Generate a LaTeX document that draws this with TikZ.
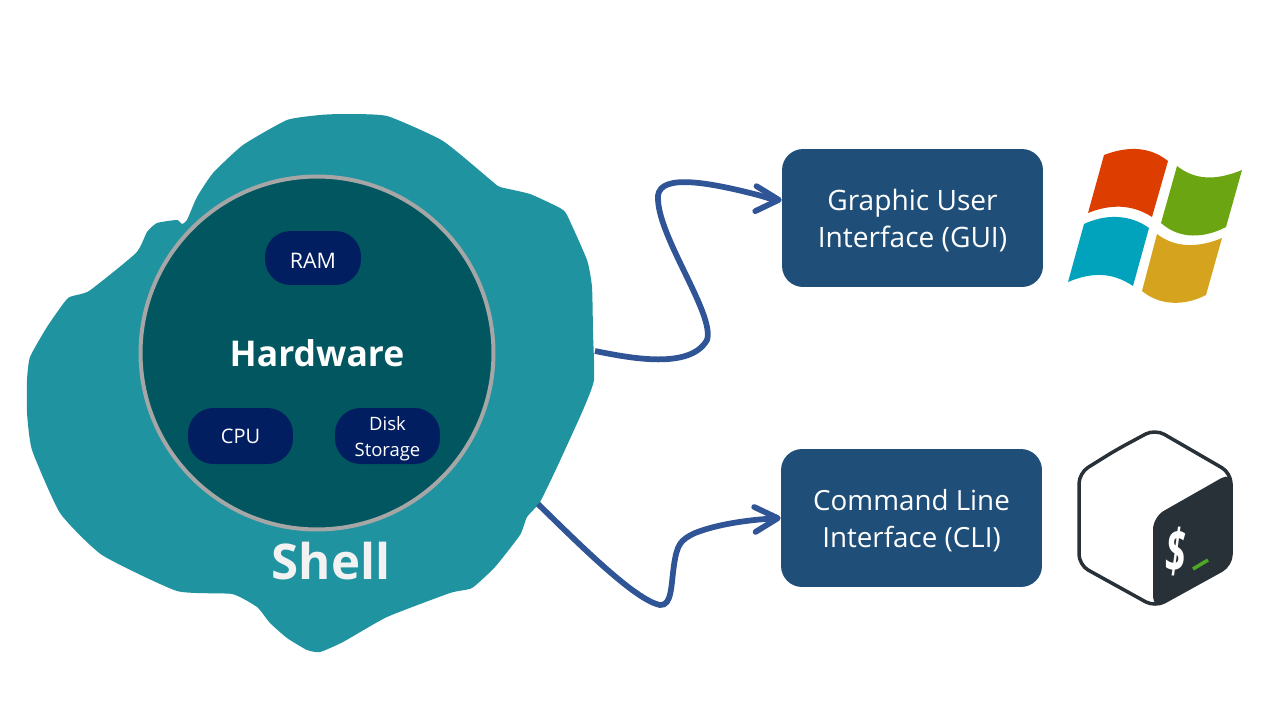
\documentclass[tikz,border=0pt]{standalone}
\usepackage{fontspec}
\setmainfont{Open Sans}
\usetikzlibrary{arrows.meta,positioning}
\definecolor{ShellTeal}{RGB}{32,147,160}
\definecolor{CoreTeal}{RGB}{2,86,95}
\definecolor{RingGray}{RGB}{166,166,166}
\definecolor{ChipBlue}{RGB}{1,31,96}
\definecolor{BoxBlue}{RGB}{31,78,121}
\definecolor{ArrowBlue}{RGB}{47,85,151}
\definecolor{ShellWhite}{RGB}{242,242,242}
\definecolor{WinRed}{RGB}{221,62,0}
\definecolor{WinGreen}{RGB}{108,165,18}
\definecolor{WinCyan}{RGB}{0,162,188}
\definecolor{WinYellow}{RGB}{214,163,30}
\definecolor{BashDark}{RGB}{41,49,56}
\definecolor{BashGreen}{RGB}{77,169,37}
\begin{document}
\begin{tikzpicture}[
  x=0.02cm,y=-0.02cm,
  chip/.style={fill=ChipBlue,rounded corners=14.5pt,text=white,align=center,
               inner sep=0pt,minimum width=2.1cm,minimum height=1.12cm},
  ifbox/.style={fill=BoxBlue,rounded corners=12pt,text=white,align=center,inner sep=0pt,
                minimum width=5.22cm,minimum height=2.76cm},
  link/.style={draw=ArrowBlue,line width=0.115cm,
               -{Straight Barb[length=0.46cm,width=0.5cm,line width=0.115cm,round]}},
]
\useasboundingbox (0,0) rectangle (1280,720);
% shell outline
\fill[ShellTeal] plot[smooth cycle,tension=0.3] coordinates {
  (320,115) (343,114) (387,116) (443,141) (493,182) (500,187) (530,194) (560,208) (567,215)
  (587,260) (592,287) (593,333) (594,380) (583,410) (558,465) (540,502) (527,517) (520,535)
  (495,567) (472,588) (450,593) (387,617) (343,642) (320,652) (307,650) (287,638) (270,623)
  (257,607) (232,594) (177,591) (102,555) (60,513) (32,450) (27,413) (27,380) (30,357)
  (47,327) (68,298) (89,291) (136,253) (147,232) (157,223) (177,220) (182,224) (187,220)
  (197,197) (213,173) (243,145) (287,120)};
\node[circle,fill=CoreTeal,draw=RingGray,line width=0.08cm,minimum size=7.06cm,inner sep=0pt,
      text=white,font=\fontsize{20.2}{24}\selectfont\bfseries] (hardware) at (317,353) {Hardware};
\node[chip,minimum width=1.92cm,minimum height=1.08cm,font=\fontsize{12.2}{15}\selectfont] (ram) at (313,258) {\rule{0pt}{11.5pt}RAM};
\node[chip,font=\fontsize{11.4}{15}\selectfont] (cpu) at (240.5,436) {CPU};
\node[chip,font=\fontsize{10.5}{14.8}\selectfont] (disk) at (387.5,436) {\rule{0pt}{11pt}Disk\\Storage};
\node[text=ShellWhite,font=\fontsize{28}{32}\selectfont\bfseries] (shell) at (331,561) {Shell};
\node[ifbox,font=\fontsize{16}{21.1}\selectfont] (gui) at (912.5,218) {\rule{0pt}{14.6pt}Graphic User\\Interface (GUI)};
\node[ifbox,font=\fontsize{15.8}{21.1}\selectfont] (cli) at (911.5,518) {\rule{0pt}{14.6pt}Command Line\\Interface (CLI)};
\coordinate (shellgui) at (595,351);
\coordinate (shellcli) at (538,504);
\draw[link] (shellgui) .. controls (630,358) and (690,370) .. (707,340)
  .. controls (715,315) and (660,240) .. (658,200)
  .. controls (655,174) and (700,180) .. (758,195)
  .. controls (765,197) and (772,199.5) .. ([yshift=0.36cm]gui.west);
\draw[link] (shellcli) .. controls (580,545) and (635,600) .. (660,605)
  .. controls (672,606) and (671,585) .. (674,565)
  .. controls (677,545) and (680,540) .. (695,533)
  .. controls (715,525) and (745,520) .. (cli.west);
% windows logo
\fill[WinRed] (1104,155) .. controls (1125,147) and (1148,145) .. (1168,161) -- (1152,217)
  .. controls (1132,204) and (1110,204) .. (1088,213) -- cycle;
\fill[WinGreen] (1177,166) .. controls (1195,180) and (1215,181) .. (1242,170) -- (1226,227)
  .. controls (1205,238) and (1180,240) .. (1161,223) -- cycle;
\fill[WinCyan] (1084,224) .. controls (1105,214) and (1130,214) .. (1149,228) -- (1133,286)
  .. controls (1112,272) and (1092,272) .. (1068,282) -- cycle;
\fill[WinYellow] (1157,234) .. controls (1175,248) and (1198,248) .. (1222,238) -- (1206,295)
  .. controls (1185,306) and (1160,306) .. (1142,291) -- cycle;
% bash logo
\draw[BashDark,line width=0.07cm,rounded corners=6pt,fill=white] (1116,450) -- (1155,429) -- (1231,473)
  -- (1231,565) -- (1155,607) -- (1079,565) -- (1079,473) -- cycle;
\fill[BashDark,rounded corners=7pt] (1153,560) -- (1153,517) -- (1232,472) -- (1232,566) -- (1153,609) -- cycle;
\node[text=white,xscale=0.62,transform shape,font=\fontsize{34}{36}\selectfont\bfseries\itshape] (dollar) at (1176,552) {\$};
\draw[BashGreen,line width=0.07cm] (1193,569) -- (1208,560);
\end{tikzpicture}
\end{document}
